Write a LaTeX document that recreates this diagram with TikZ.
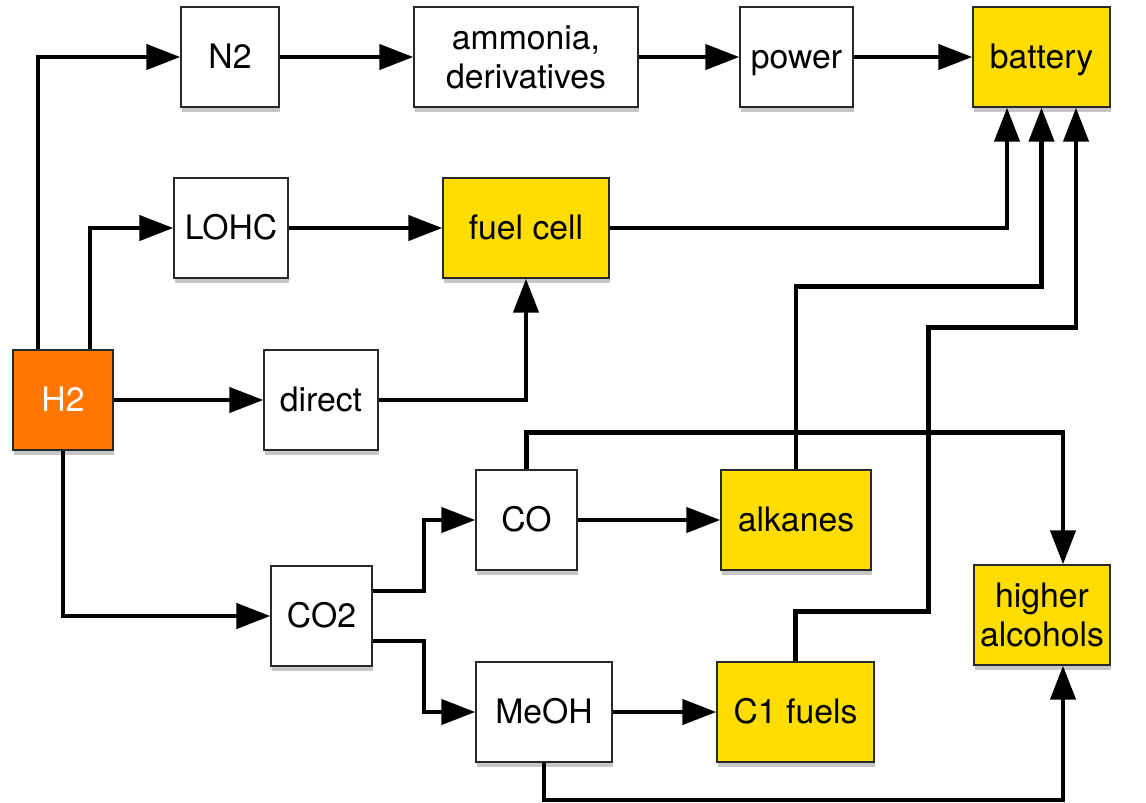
\documentclass[tikz,border=0pt]{standalone}
\usepackage{fontspec}
\setmainfont{TeX Gyre Heros}
\usepackage{xcolor}
\usepackage{tikz}
\usetikzlibrary{positioning,arrows.meta,calc,shadows}
\definecolor{fuel}{RGB}{255,221,0}
\definecolor{hydro}{RGB}{255,119,0}
\definecolor{edge}{RGB}{40,40,40}

\begin{document}
\begin{tikzpicture}[
  x=0.02cm,y=-0.02cm,
  font=\fontsize{19.2}{22}\selectfont,
  base/.style={draw=edge,line width=0.8pt,fill=white,minimum height=2cm,
              inner sep=2pt,align=center,
              drop shadow={shadow xshift=0.6pt,shadow yshift=-2.6pt,opacity=0.45}},
  box/.style={base,text height=13.6pt,text depth=0.6pt},
  prod/.style={box,fill=fuel},
  src/.style={box,fill=hydro,text=white},
  fl/.style={-{Triangle[length=0.68cm,width=0.5cm]},line width=2.5pt},
]
\useasboundingbox (0,0) rectangle (1146,802);

\node[box,minimum width=1.96cm] (n2) at (230,57) {N2};
\node[base,minimum width=4.48cm] (amm) at (526,57) {ammonia,\\derivatives};
\node[box,minimum width=2.26cm] (power) at (796.5,57) {power};
\node[prod,minimum width=2.74cm] (batt) at (1041.5,57) {battery};
\node[box,minimum width=2.28cm] (lohc) at (231,228) {LOHC};
\node[prod,minimum width=3.32cm] (fcell) at (526,228) {fuel cell};
\node[src,minimum width=2cm] (h2) at (63,400) {H2};
\node[box,minimum width=2.28cm] (direct) at (321,400) {direct};
\node[box,minimum width=2.02cm] (co) at (526.5,520) {CO};
\node[prod,minimum width=3cm] (alk) at (796,520) {alkanes};
\node[box,minimum width=2.02cm] (co2) at (321.5,616) {CO2};
\node[base,fill=fuel,minimum width=2.72cm] (hialc) at (1042,615) {higher\\alcohols};
\node[box,minimum width=2.72cm] (meoh) at (544,712) {MeOH};
\node[prod,minimum width=3.14cm] (c1) at (795.5,712) {C1 fuels};

% hydrogen routes
\draw[fl] ($(h2.north)+(-25,0)$) |- (n2.west);
\draw[fl] ($(h2.north)+(27,0)$) |- (lohc.west);
\draw[fl] (h2.east) -- (direct.west);
\draw[fl] (h2.south) |- (co2.west);

\draw[fl] (n2.east) -- (amm.west);
\draw[fl] (amm.east) -- (power.west);
\draw[fl] (power.east) -- (batt.west);
\draw[fl] (lohc.east) -- (fcell.west);
\draw[fl] (fcell.east) -| ($(batt.south)+(-34.5,0)$);
\draw[fl] (direct.east) -| (fcell.south);

% carbon routes
\draw[fl] ($(co2.east)+(0,-25)$) -- ++(51,0) |- (co.west);
\draw[fl] ($(co2.east)+(0,25)$) -- ++(51,0) |- (meoh.west);
\draw[fl] (co.east) -- (alk.west);
\draw[fl] (meoh.east) -- (c1.west);
\draw[fl] (alk.north) -- ++(0,-183) -| (batt.south);
\draw[fl] (c1.north) -- ++(0,-50) -- ++(133,0) -- ++(0,-284)
      -| ($(batt.south)+(34.5,0)$);
\draw[fl] (co.north) -- ++(0,-37) -| ($(hialc.north)+(21,0)$);
\draw[fl] (meoh.south) -- ++(0,37) -| ($(hialc.south)+(21,0)$);
\end{tikzpicture}
\end{document}
